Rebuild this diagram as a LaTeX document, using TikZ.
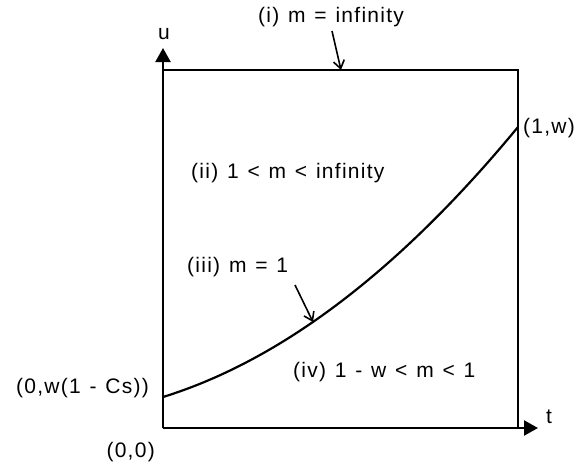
\documentclass[tikz,border=0pt]{standalone}
\usepackage{fontspec}
\setmainfont{Liberation Sans}
\newfontfamily\labfont[LetterSpace=6]{Liberation Sans}
\newcommand\mylabsetup{\labfont\fontsize{21}{24}\selectfont\spaceskip 0.42em\relax}
\usetikzlibrary{arrows.meta}
\tikzset{
  lab/.style={font=\mylabsetup, inner sep=0pt, text=black},
  frame/.style={line width=2.2pt, draw=black},
  axis/.style={line width=2.2pt, -{Triangle[length=14pt,width=15pt]}},
  pointer/.style={line width=1.6pt, -{Straight Barb[length=8pt,width=11pt,line width=1.6pt]}},
}
\begin{document}
\begin{tikzpicture}[x=1pt,y=-1pt]
\useasboundingbox (0,0) rectangle (576,466);
% corners
\coordinate (O) at (163,428);
\coordinate (TL) at (163,70);
\coordinate (TR) at (518,70);
\coordinate (BR) at (518,428);
\coordinate (Utip) at (163,48);
\coordinate (Ttip) at (538,428);
\coordinate (C0) at (163,397);
\coordinate (C1) at (518,127);
% box
\draw[frame] (TL) -- (TR) -- (BR);
\draw[axis] (O) -- (Utip);
\draw[axis] (O) -- (Ttip);
% curve
\draw[frame] (C0) .. controls (281.3,360.3) and (399.7,270.3) .. (C1);
% labels
\node[lab] (u) at (164,34) {u};
\node[lab, anchor=west] (t) at (546,417) {t};
\node[lab, anchor=west] (li) at (258,17) {(i) m = infinity};
\node[lab, anchor=west] (lii) at (191,173) {(ii) 1 < m < infinity};
\node[lab, anchor=west] (liii) at (187,267) {(iii) m = 1};
\node[lab, anchor=west] (liv) at (293,372) {(iv) 1 - w < m < 1};
\node[lab, anchor=west] (l1w) at (523,128) {(1,w)};
\node[lab, anchor=east] (l0w) at (149,388) {(0,w(1 - Cs))};
\node[lab, anchor=east] (l00) at (155,452) {(0,0)};
% pointers
\coordinate (Pi) at (332,31);
\coordinate (Ai) at (341,70);
\coordinate (Piii) at (295,285);
\coordinate (Aiii) at (313,322);
\draw[pointer] (Pi) -- (Ai);
\draw[pointer] (Piii) -- (Aiii);
\end{tikzpicture}
\end{document}
